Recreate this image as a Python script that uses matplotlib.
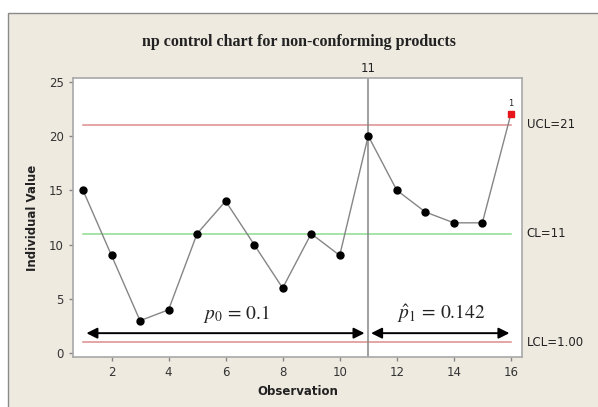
import matplotlib.pyplot as plt
from matplotlib.patches import Rectangle

# np chart data
obs = list(range(1, 17))
counts = [15, 9, 3, 4, 11, 14, 10, 6, 11, 9, 20, 15, 13, 12, 12, 22]
flagged = [16]          # observation beyond UCL
ucl, cl, lcl = 21, 11, 1.0
shift_at = 11
limit_labels = ["UCL=21", "CL=11", "LCL=1.00"]

BG = "#EEEAE0"
RED_LINE = "#DC8C8C"
GREEN_LINE = "#8EDC8E"
GREY = "#858585"

plt.rcParams["mathtext.fontset"] = "stix"

fig = plt.figure(figsize=(5.98, 4.07), dpi=100, facecolor="white")
fig.patches.append(Rectangle((8 / 598, -0.05), 1.2, 1 - 13 / 407 + 0.05,
                             transform=fig.transFigure, facecolor=BG,
                             edgecolor="#8A8A8A", linewidth=1.0, zorder=-10))

ax = fig.add_axes([73 / 598, 49.7 / 407, 448.7 / 598, 279.6 / 407])
ax.set_facecolor("white")
ax.set_xlim(0.65, 16.38)
ax.set_ylim(-0.37, 25.35)

# limit lines
ax.plot([obs[0], obs[-1]], [ucl, ucl], color=RED_LINE, lw=1.1, zorder=2)
ax.plot([obs[0], obs[-1]], [cl, cl], color=GREEN_LINE, lw=1.1, zorder=2)
ax.plot([obs[0], obs[-1]], [lcl, lcl], color=RED_LINE, lw=1.1, zorder=2)

# stage shift marker
ax.axvline(shift_at, color=GREY, lw=1.1, zorder=2)
ax.text(shift_at, 25.6, str(shift_at), ha="center", va="bottom",
        fontsize=8.5, color="#222222", clip_on=False)

# series
ax.plot(obs, counts, color=GREY, lw=1.0, zorder=3)
ok = [(o, c) for o, c in zip(obs, counts) if o not in flagged]
bad = [(o, c) for o, c in zip(obs, counts) if o in flagged]
ax.plot([o for o, _ in ok], [c for _, c in ok], "o", color="black",
        ms=5, zorder=4)
ax.plot([o for o, _ in bad], [c for _, c in bad], "s", color="#E8141C",
        ms=5, zorder=4)
for o, c in bad:
    ax.text(o, c + 0.6, "1", ha="center", va="bottom", fontsize=6,
            color="#222222")

# phase arrows and labels
ax.annotate("", xy=(1.12, 1.85), xytext=(10.87, 1.85),
            arrowprops=dict(arrowstyle="<|-|>", color="black", lw=1.4,
                            mutation_scale=16, shrinkA=0, shrinkB=0))
ax.annotate("", xy=(11.1, 1.85), xytext=(15.95, 1.85),
            arrowprops=dict(arrowstyle="<|-|>", color="black", lw=1.4,
                            mutation_scale=16, shrinkA=0, shrinkB=0))
ax.text(6.38, 2.6, r"$p_0\, =\, 0.1$", ha="center", va="bottom",
        fontsize=14, color="#222222")
ax.text(13.55, 2.6, r"$\hat{p}_1\, =\, 0.142$", ha="center", va="bottom",
        fontsize=14, color="#222222")

# right-hand limit labels
for val, lab in zip([ucl, cl, lcl], limit_labels):
    ax.text(16.55, val, lab, ha="left", va="center", fontsize=8.5,
            color="#222222", clip_on=False)

ax.set_xticks([2, 4, 6, 8, 10, 12, 14, 16])
ax.set_yticks([0, 5, 10, 15, 20, 25])
ax.tick_params(axis="both", colors=GREY, labelcolor="#333333",
               labelsize=8.5, length=3, width=1.0, direction="out")
for s in ["top", "right", "left", "bottom"]:
    ax.spines[s].set_color("#A8A8A8")
    ax.spines[s].set_linewidth(1.2)

ax.set_xlabel("Observation", fontsize=8.5, fontweight="bold",
              color="#222222", labelpad=4)
ax.set_ylabel("Individual Value", fontsize=8.5, fontweight="bold",
              color="#222222", labelpad=7)

fig.text(0.5, 1 - 42 / 407, "np control chart for non-conforming products",
         ha="center", va="center", fontsize=11.5, fontweight="bold",
         family="Liberation Serif", color="#222222")

fig.savefig("out.png", dpi=100, facecolor="white")
